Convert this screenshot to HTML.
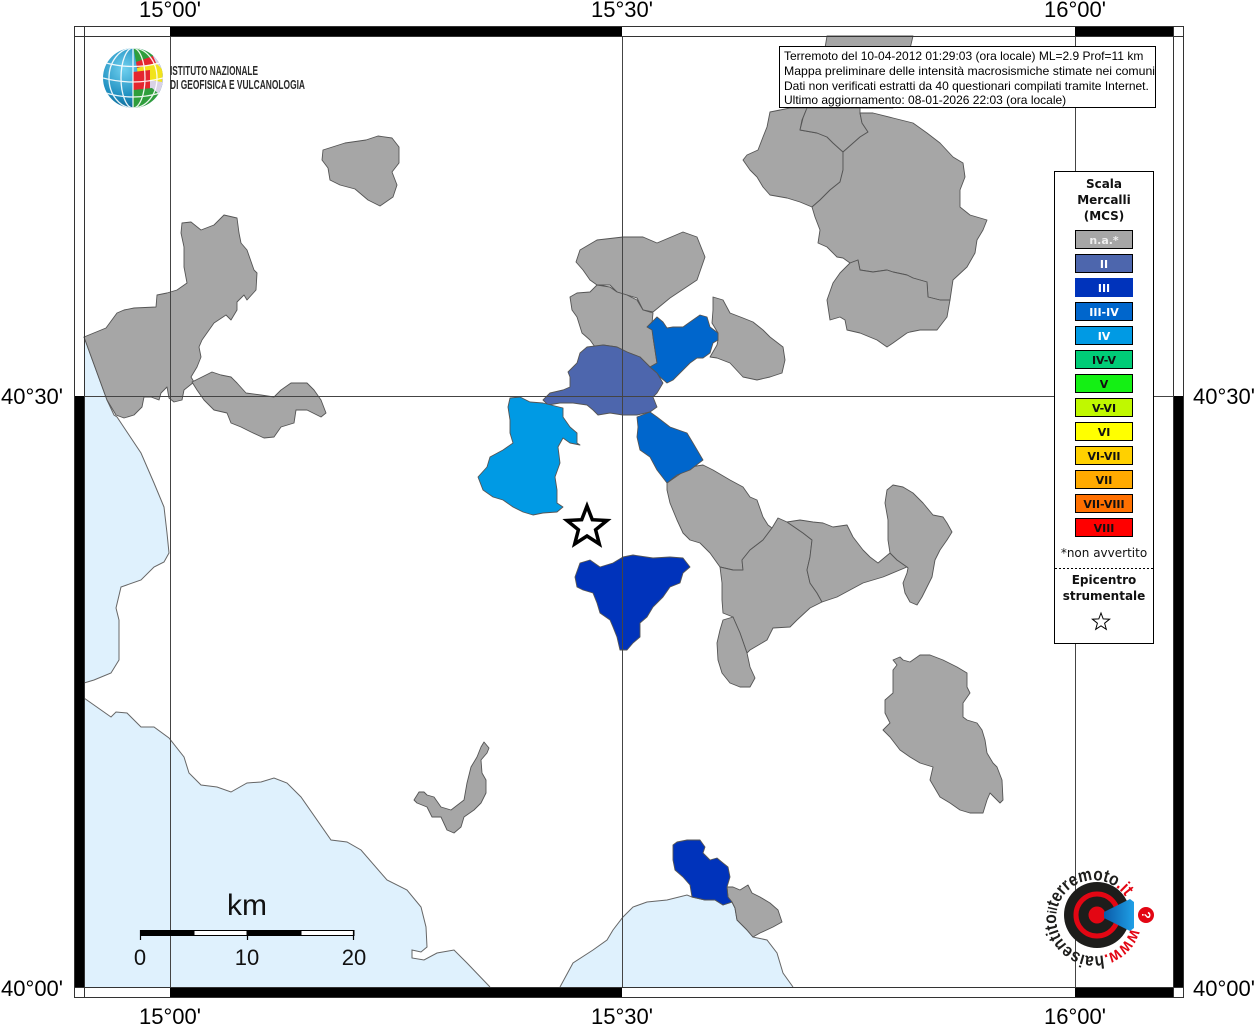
<!DOCTYPE html>
<html><head><meta charset="utf-8"><style>
html,body{margin:0;padding:0;background:#fff;}
svg{display:block;}
</style></head><body>
<svg width="1256" height="1024" viewBox="0 0 1256 1024" xmlns="http://www.w3.org/2000/svg">
<defs>
<radialGradient id="glb" cx="0.35" cy="0.35" r="0.75">
<stop offset="0" stop-color="#6fd0ef"/><stop offset="0.6" stop-color="#1f8fc0"/><stop offset="1" stop-color="#0b5b86"/>
</radialGradient>
<clipPath id="gclip"><circle cx="133" cy="78" r="30"/></clipPath>
<linearGradient id="cone" x1="0" y1="0" x2="1" y2="0"><stop offset="0" stop-color="#0a5aa8"/><stop offset="1" stop-color="#1fa0e6"/></linearGradient>
<path id="ring" d="M 1130.7 928.4 A 38 38 0 1 1 1128.4 901.9"/>
</defs>
<rect width="1256" height="1024" fill="#fff"/>

<!-- seas -->
<g fill="#dff1fd" stroke="none">
<polygon points="84,337 107,400 114,415 117,417 141,453 154,483 164,507 167,533 169,553 164,562 154,567 141,580 121,587 116,608 119,620 119,660 111,673 94,680 84,683"/>
<polygon points="84,698 111,717 116,712 127,713 141,727 154,727 169,738 184,757 189,773 201,785 217,787 231,792 247,783 261,782 274,778 287,783 301,797 331,840 347,842 361,850 387,880 407,890 421,907 426,927 427,947 421,952 412,950 412,958 424,960 437,953 454,950 467,963 490,987 84,987"/>
<polygon points="560,987 573,963 593,950 607,940 613,930 623,917 633,907 647,902 667,900 687,895 692,897 705,900 715,900 723,905 732,902 735,908 737,920 747,930 753,937 767,940 777,953 783,973 793,987"/>
</g>
<g fill="none" stroke="#666" stroke-width="1">
<polyline points="84,337 107,400 114,415 117,417 141,453 154,483 164,507 167,533 169,553 164,562 154,567 141,580 121,587 116,608 119,620 119,660 111,673 94,680 84,683"/>
<polyline points="84,698 111,717 116,712 127,713 141,727 154,727 169,738 184,757 189,773 201,785 217,787 231,792 247,783 261,782 274,778 287,783 301,797 331,840 347,842 361,850 387,880 407,890 421,907 426,927 427,947 421,952 412,950 412,958 424,960 437,953 454,950 467,963 490,987"/>
<polyline points="560,987 573,963 593,950 607,940 613,930 623,917 633,907 647,902 667,900 687,895 692,897 705,900 715,900 723,905 732,902 735,908 737,920 747,930 753,937 767,940 777,953 783,973 793,987"/>
</g>

<!-- regions -->
<g stroke="#555" stroke-width="0.9" stroke-linejoin="round">
<g fill="#a6a6a6">
<polygon points="323,150 345,143 366,140 378,136 392,138 399,147 399,163 392,172 397,185 393,197 380,206 368,200 355,189 340,185 330,180 328,168 322,160"/>
<polygon points="84,337 106,328 117,313 124,310 134,308 156,307 157,295 167,293 177,290 187,283 184,267 184,247 181,233 182,223 191,222 201,230 214,225 224,215 237,218 239,233 241,243 247,250 254,270 257,273 256,290 247,300 244,295 237,302 237,310 231,320 226,315 214,323 202,340 199,347 201,357 197,367 191,377 194,382 184,390 182,400 174,402 169,398 167,387 161,393 159,400 151,397 144,397 142,407 134,415 124,418 116,415 107,400"/>
<polygon points="192,382 212,372 221,375 231,377 237,383 246,393 261,395 274,397 281,390 291,383 307,383 314,390 321,400 326,413 321,417 307,410 296,410 294,423 281,427 274,437 264,438 251,432 241,427 231,423 227,413 214,410 204,400 197,390"/>
<polygon points="580,250 597,240 623,237 643,237 657,243 683,232 697,237 705,257 697,280 670,298 653,312 643,310 637,298 617,292 610,285 597,285 590,280 583,270 576,262"/>
<polygon points="570,297 577,293 590,292 597,285 610,287 617,292 627,295 637,300 643,310 653,313 652,323 653,337 655,350 657,363 650,367 640,357 627,352 617,347 603,345 595,347 590,340 582,333 577,317 572,310"/>
<polygon points="713,297 723,300 730,313 743,318 753,322 763,330 770,337 783,347 785,360 782,373 770,377 757,380 743,377 730,363 717,358 710,357 717,345 718,340 718,333 712,323 713,310"/>
<polygon points="667,483 690,467 703,465 713,470 730,480 743,487 750,497 757,500 763,517 768,525 772,528 763,540 750,550 742,560 743,570 733,570 720,567 710,553 700,543 690,540 683,533 677,520 670,503 667,490"/>
<polygon points="720,567 733,570 743,570 742,560 750,550 763,540 772,528 778,518 787,522 803,533 812,540 810,557 807,570 810,583 817,593 822,602 810,608 797,620 790,627 773,628 767,640 750,650 747,653 740,633 733,617 723,613 722,600 722,583"/>
<polygon points="787,522 800,520 813,522 823,523 833,527 847,525 853,537 863,550 870,557 878,563 890,553 897,560 907,567 883,577 863,583 850,590 837,597 822,602 817,593 810,583 807,570 810,557 812,540 803,533"/>
<polygon points="887,490 893,485 903,487 913,493 923,503 933,515 943,517 947,523 952,532 947,540 940,550 935,560 932,577 927,587 922,597 917,605 910,602 905,593 903,583 907,573 908,568 907,567 897,560 890,553 888,540 888,520 885,503"/>
<polygon points="733,617 740,633 747,653 750,667 755,678 750,687 740,687 730,683 722,673 718,660 717,643 720,630 723,620"/>
<polygon points="815,108 827,36 913,36 905,70 893,108"/>
<polygon points="770,112 767,127 763,137 758,150 747,155 743,160 750,170 757,177 763,187 770,195 787,198 800,202 812,207 820,200 830,190 840,182 843,170 843,152 833,143 827,137 817,133 800,130 802,120 807,108 790,108"/>
<polygon points="800,130 803,118 807,108 860,108 860,113 862,123 868,132 860,137 843,152 833,143 827,137 817,133"/>
<polygon points="843,152 860,137 868,132 862,123 860,113 873,113 893,118 913,123 927,133 940,143 953,157 963,163 965,177 960,190 960,207 970,215 987,220 983,230 977,240 975,253 967,267 953,280 950,300 940,300 928,297 927,282 913,278 907,275 893,272 887,270 873,272 860,270 858,260 850,263 843,258 837,257 827,247 818,243 820,230 815,217 812,207 820,200 830,190 840,182 843,170"/>
<polygon points="858,260 860,270 873,272 887,270 893,272 907,275 913,278 927,282 928,297 940,300 950,300 947,317 937,330 920,330 910,332 907,333 893,343 887,347 877,340 860,333 847,330 845,320 840,317 830,320 827,300 833,283 840,273 850,263"/>
<polygon points="893,660 900,657 903,660 910,662 920,655 930,655 943,660 957,667 967,673 967,687 970,693 963,703 963,717 967,720 977,723 982,730 985,740 987,753 993,763 997,767 1002,780 1003,800 1000,803 990,793 987,800 983,813 970,813 960,810 950,803 940,797 930,780 933,767 920,763 910,757 900,750 890,737 883,730 890,723 885,713 885,700 893,693 893,683 893,670 897,665"/>
<polygon points="484,742 489,748 487,753 481,760 482,773 486,780 486,793 481,803 474,810 464,817 461,827 454,833 447,830 441,817 432,817 427,807 417,803 414,800 419,792 424,792 427,795 434,797 441,807 451,810 464,800 467,783 471,767 477,757 481,747"/>
<polygon points="727,887 733,887 740,890 748,885 752,893 760,897 770,903 778,910 782,922 773,927 760,933 753,937 747,930 737,920 735,908 732,902 728,897"/>
</g>
<polygon fill="#4d66ad" points="580,353 587,347 603,345 617,347 627,352 640,357 650,367 657,373 663,383 657,393 653,397 657,407 650,412 637,415 623,415 610,413 598,415 593,410 587,405 573,403 560,403 548,405 543,400 550,393 563,390 570,387 570,377 568,372 577,363"/>
<polygon fill="#0066cc" points="647,327 657,317 663,322 667,328 673,327 683,327 690,322 700,315 707,317 710,327 718,333 718,340 713,343 710,353 703,358 697,358 690,363 683,370 673,380 667,383 660,377 657,373 650,367 657,363 655,350 653,337 652,330"/>
<polygon fill="#0066cc" points="637,417 650,412 657,417 670,427 687,433 693,443 703,460 690,470 677,475 667,483 657,470 650,457 640,450 637,437 638,427"/>
<polygon fill="#009ae4" points="510,398 520,397 530,402 543,403 563,408 563,417 570,427 577,433 577,443 580,445 570,443 563,438 558,447 560,463 555,477 557,490 557,503 563,507 557,512 543,513 533,515 523,512 513,507 503,500 493,497 483,490 478,477 487,467 490,457 503,450 513,443 510,433 510,420 508,407"/>
<polygon fill="#0033bb" points="580,563 590,560 600,567 613,563 623,557 633,555 653,558 670,557 683,558 690,567 683,573 680,583 670,587 663,597 653,607 647,617 640,623 640,637 633,643 627,650 620,650 617,637 613,627 610,620 600,613 597,603 593,593 583,590 577,587 575,577"/>
<polygon fill="#0033bb" points="673,845 677,842 687,840 700,840 705,847 703,853 710,860 717,858 723,863 728,867 730,877 727,887 728,897 732,902 723,905 715,900 705,900 692,897 690,885 683,877 675,870 673,860"/>
</g>

<!-- grid -->
<g stroke="#444" stroke-width="1">
<line x1="170.5" y1="36" x2="170.5" y2="987"/>
<line x1="622.5" y1="36" x2="622.5" y2="987"/>
<line x1="1075.5" y1="36" x2="1075.5" y2="987"/>
<line x1="84" y1="396.5" x2="1173" y2="396.5"/>
</g>

<!-- frame -->
<g fill="#000">
<rect x="170" y="26" width="452" height="10"/>
<rect x="1075" y="26" width="98" height="10"/>
<rect x="170" y="987" width="452" height="10"/>
<rect x="1075" y="987" width="98" height="10"/>
<rect x="74" y="396" width="10" height="591"/>
<rect x="1173" y="396" width="10" height="591"/>
</g>
<g fill="none" stroke="#333" stroke-width="1">
<rect x="74.5" y="26.5" width="1109" height="971"/>
<line x1="84.5" y1="26" x2="84.5" y2="997"/>
<line x1="1173.5" y1="26" x2="1173.5" y2="997"/>
<line x1="74" y1="36.5" x2="1183" y2="36.5"/>
<line x1="74" y1="987.5" x2="1183" y2="987.5"/>
</g>

<!-- epicentre star -->
<polygon points="587,506 592.3,519.7 607,520.5 595.6,529.8 599.3,544 587,536 574.7,544 578.4,529.8 567,520.5 581.7,519.7" fill="#fff" stroke="#000" stroke-width="3.5" stroke-linejoin="miter"/>

<!-- info box -->
<rect x="779.5" y="46.5" width="376" height="61" fill="#fff" stroke="#000" stroke-width="1"/>
<g font-family="Liberation Sans, Arial, sans-serif" font-size="12" fill="#000">
<text x="784" y="60">Terremoto del 10-04-2012 01:29:03 (ora locale) ML=2.9 Prof=11 km</text>
<text x="784" y="75" textLength="371" lengthAdjust="spacingAndGlyphs">Mappa preliminare delle intensità macrosismiche stimate nei comuni</text>
<text x="784" y="90">Dati non verificati estratti da 40 questionari compilati tramite Internet.</text>
<text x="784" y="104">Ultimo aggiornamento: 08-01-2026 22:03 (ora locale)</text>
</g>

<!-- legend -->
<rect x="1054.5" y="171.5" width="99" height="472" fill="#fff" stroke="#000" stroke-width="1"/>
<g font-family="DejaVu Sans, Verdana, sans-serif" font-weight="bold" font-size="12" fill="#111" text-anchor="middle">
<text x="1104" y="188">Scala</text>
<text x="1104" y="204">Mercalli</text>
<text x="1104" y="220">(MCS)</text>
</g>
<g stroke="#000" stroke-width="1">
<rect x="1075.5" y="230.5" width="57" height="18" fill="#a6a6a6"/>
<rect x="1075.5" y="254.5" width="57" height="18" fill="#4d66ad"/>
<rect x="1075.5" y="278.5" width="57" height="18" fill="#0033bb" stroke="#0033bb"/>
<rect x="1075.5" y="302.5" width="57" height="18" fill="#0066cc"/>
<rect x="1075.5" y="326.5" width="57" height="18" fill="#009ae4"/>
<rect x="1075.5" y="350.5" width="57" height="18" fill="#00cc77"/>
<rect x="1075.5" y="374.5" width="57" height="18" fill="#14f014"/>
<rect x="1075.5" y="398.5" width="57" height="18" fill="#c0f800"/>
<rect x="1075.5" y="422.5" width="57" height="18" fill="#ffff00"/>
<rect x="1075.5" y="446.5" width="57" height="18" fill="#ffd000"/>
<rect x="1075.5" y="470.5" width="57" height="18" fill="#ffaa00"/>
<rect x="1075.5" y="494.5" width="57" height="18" fill="#ff7000"/>
<rect x="1075.5" y="518.5" width="57" height="18" fill="#ff0000"/>
</g>
<g font-family="DejaVu Sans, Verdana, sans-serif" font-weight="bold" font-size="11" text-anchor="middle">
<text x="1104" y="244" fill="#eeeeee">n.a.*</text>
<text x="1104" y="268" fill="#fff">II</text>
<text x="1104" y="292" fill="#fff">III</text>
<text x="1104" y="316" fill="#fff">III-IV</text>
<text x="1104" y="340" fill="#fff">IV</text>
<text x="1104" y="364" fill="#111">IV-V</text>
<text x="1104" y="388" fill="#111">V</text>
<text x="1104" y="412" fill="#111">V-VI</text>
<text x="1104" y="436" fill="#111">VI</text>
<text x="1104" y="460" fill="#111">VI-VII</text>
<text x="1104" y="484" fill="#111">VII</text>
<text x="1104" y="508" fill="#111">VII-VIII</text>
<text x="1104" y="532" fill="#111">VIII</text>
</g>
<text x="1104" y="557" font-family="DejaVu Sans, Verdana, sans-serif" font-size="12" fill="#111" text-anchor="middle">*non avvertito</text>
<line x1="1055" y1="568.5" x2="1153" y2="568.5" stroke="#000" stroke-width="1" stroke-dasharray="2,2"/>
<g font-family="DejaVu Sans, Verdana, sans-serif" font-weight="bold" font-size="12" fill="#111" text-anchor="middle">
<text x="1104" y="584">Epicentro</text>
<text x="1104" y="600">strumentale</text>
</g>
<polygon points="1101,613 1103.2,618.9 1109.6,619.2 1104.6,623.2 1106.3,629.3 1101,625.8 1095.7,629.3 1097.4,623.2 1092.4,619.2 1098.8,618.9" fill="#fff" stroke="#000" stroke-width="1"/>

<!-- INGV logo -->
<circle cx="133" cy="78" r="30" fill="url(#glb)"/>
<g clip-path="url(#gclip)">
<polygon points="150,45 170,45 170,112 148,112 150,90" fill="#d9d2e6"/>
<polygon points="133,45 152,45 153,57 136,62" fill="#2f9e3c"/>
<polygon points="136,62 153,56 156,63 137,68" fill="#e4262f"/>
<polygon points="137,68 156,63 163,70 162,82 150,80 138,77" fill="#f1e31c"/>
<polygon points="133,72 150,70 150,90 133,90" fill="#e4262f"/>
<polygon points="133,90 152,88 160,95 160,112 133,112" fill="#2f9e3c"/>
<g fill="none" stroke="#fff" stroke-width="1.3" opacity="0.9">
<ellipse cx="133" cy="78" rx="12" ry="30"/>
<ellipse cx="133" cy="78" rx="24" ry="30"/>
<line x1="133" y1="48" x2="133" y2="108"/>
<path d="M103,78 Q133,86 163,78"/>
<path d="M106,63 Q133,70 160,63"/>
<path d="M106,93 Q133,101 160,93"/>
</g>
</g>
<g font-family="Liberation Sans, Arial, sans-serif" font-size="12.5" font-weight="bold" fill="#2a2a2a">
<text x="170" y="75" textLength="88" lengthAdjust="spacingAndGlyphs">ISTITUTO NAZIONALE</text>
<text x="170" y="89" textLength="135" lengthAdjust="spacingAndGlyphs">DI GEOFISICA E VULCANOLOGIA</text>
</g>

<!-- haisentito logo -->
<circle cx="1097" cy="915" r="33" fill="#1d1d1b"/>
<circle cx="1097" cy="915" r="21" fill="none" stroke="#e30613" stroke-width="5"/>
<circle cx="1097" cy="915" r="8.5" fill="#e30613"/>
<polygon points="1104,912 1130,899 1134,902 1134,928 1130,931 1104,918" fill="url(#cone)"/>
<circle cx="1146" cy="915" r="8" fill="#e30613"/>
<text x="0" y="0" transform="translate(1146,915) rotate(90)" font-family="Liberation Sans, Arial, sans-serif" font-weight="bold" font-size="12" fill="#fff" text-anchor="middle" dy="4">?</text>
<text font-family="Liberation Sans, Arial, sans-serif" font-size="18" font-weight="bold" fill="#1d1d1b"><textPath href="#ring" textLength="205" lengthAdjust="spacingAndGlyphs"><tspan fill="#e30613">www.</tspan>haisentito<tspan font-size="13">il</tspan>terremoto<tspan fill="#e30613">.it</tspan></textPath></text>

<!-- scale bar -->
<rect x="140" y="930" width="54" height="6" fill="#000"/>
<rect x="194" y="930.5" width="53" height="5" fill="#fff" stroke="#000" stroke-width="1"/>
<rect x="247" y="930" width="54" height="6" fill="#000"/>
<rect x="301" y="930.5" width="53" height="5" fill="#fff" stroke="#000" stroke-width="1"/>
<g stroke="#000" stroke-width="1.2">
<line x1="140.5" y1="930" x2="140.5" y2="940"/>
<line x1="247.5" y1="930" x2="247.5" y2="940"/>
<line x1="353.5" y1="930" x2="353.5" y2="940"/>
</g>
<g font-family="Liberation Sans, Arial, sans-serif" fill="#111" text-anchor="middle">
<text x="247" y="915" font-size="30">km</text>
<text x="140" y="965" font-size="22">0</text>
<text x="247" y="965" font-size="22">10</text>
<text x="354" y="965" font-size="22">20</text>
</g>

<!-- axis labels -->
<g font-family="Liberation Sans, Arial, sans-serif" font-size="22" fill="#000">
<text x="170" y="17" text-anchor="middle">15°00'</text>
<text x="622" y="17" text-anchor="middle">15°30'</text>
<text x="1075" y="17" text-anchor="middle">16°00'</text>
<text x="170" y="1024" text-anchor="middle">15°00'</text>
<text x="622" y="1024" text-anchor="middle">15°30'</text>
<text x="1075" y="1024" text-anchor="middle">16°00'</text>
<text x="63" y="404" text-anchor="end">40°30'</text>
<text x="63" y="996" text-anchor="end">40°00'</text>
<text x="1193" y="404">40°30'</text>
<text x="1193" y="996">40°00'</text>
</g>
</svg>
</body></html>
